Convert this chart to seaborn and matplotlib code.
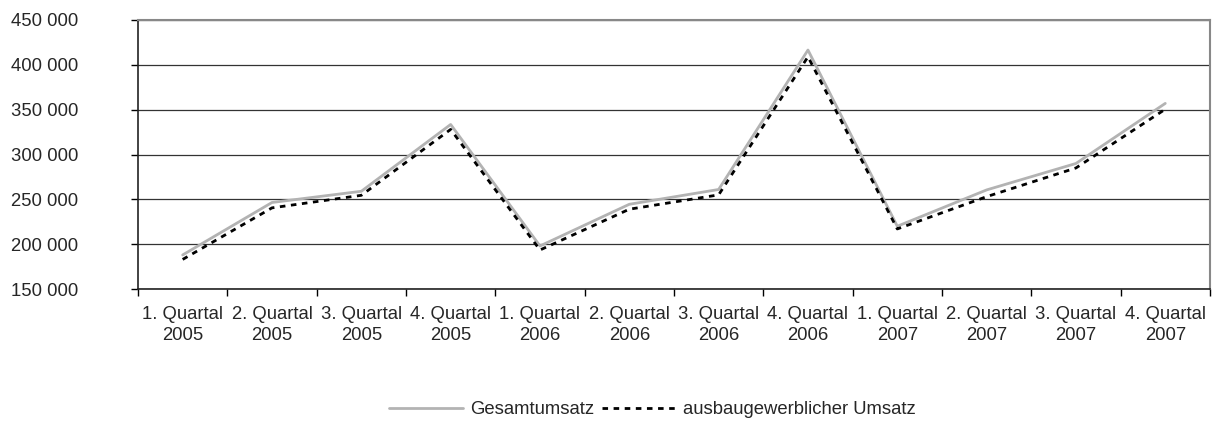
import matplotlib
matplotlib.use('Agg')
import matplotlib.pyplot as plt
import seaborn as sns
import pandas as pd
from matplotlib.ticker import FuncFormatter, FixedLocator

#quarter labels + values
quartale = ['1. Quartal\n2005', '2. Quartal\n2005', '3. Quartal\n2005', '4. Quartal\n2005',
            '1. Quartal\n2006', '2. Quartal\n2006', '3. Quartal\n2006', '4. Quartal\n2006',
            '1. Quartal\n2007', '2. Quartal\n2007', '3. Quartal\n2007', '4. Quartal\n2007']
gesamtumsatz = [188000, 246500, 259000, 333500, 198000, 244500, 261000, 416500,
                220000, 260500, 290000, 357000]
ausbau_umsatz = [183000, 240500, 254500, 328000, 193500, 239000, 255000, 409000,
                 217000, 253000, 285000, 350500]

df = pd.DataFrame({'pos': range(len(quartale)),
                   'Gesamtumsatz': gesamtumsatz,
                   'ausbaugewerblicher Umsatz': ausbau_umsatz})

sns.set_style('white')
plt.rcParams['font.family'] = ['Liberation Sans', 'DejaVu Sans']
fs = 13.3

fig = plt.figure(figsize=(12.17, 4.21), dpi=100)
ax = fig.add_axes([0.1134, 0.3135, 0.8808, 0.639])

sns.lineplot(data=df, x='pos', y='Gesamtumsatz', ax=ax, color='#b3b3b3', linewidth=2,
             label='Gesamtumsatz')
sns.lineplot(data=df, x='pos', y='ausbaugewerblicher Umsatz', ax=ax, color='black',
             linewidth=2, dashes=(2, 2), label='ausbaugewerblicher Umsatz')

ax.set_xlim(-0.5, len(quartale) - 0.5)
ax.set_ylim(150000, 450000)
ax.set_yticks(range(150000, 450001, 50000))
ax.yaxis.set_major_formatter(FuncFormatter(lambda v, p: f'{int(v):,}'.replace(',', ' ')))
ax.yaxis.grid(True, color='#333333', linewidth=0.9)
ax.set_axisbelow(True)

#ticks at category borders, labels at centers
ax.xaxis.set_major_locator(FixedLocator([i - 0.5 for i in range(len(quartale) + 1)]))
ax.xaxis.set_major_formatter(FuncFormatter(lambda v, p: ''))
ax.xaxis.set_minor_locator(FixedLocator(list(range(len(quartale)))))
ax.set_xticklabels(quartale, minor=True, linespacing=1.35)
ax.tick_params(axis='x', which='major', length=5, width=1, color='black', direction='out', bottom=True)
ax.tick_params(axis='x', which='minor', length=0, labelsize=fs, pad=12)
ax.tick_params(axis='y', length=5, width=1, color='black', direction='out', left=True, labelsize=fs, pad=38)

for s in ['top', 'right']:
    ax.spines[s].set_color('#888888')
    ax.spines[s].set_linewidth(1.5)
for s in ['left', 'bottom']:
    ax.spines[s].set_color('#222222')
    ax.spines[s].set_linewidth(1.2)

ax.set_xlabel('')
ax.set_ylabel('')
h, l = ax.get_legend_handles_labels()
ax.get_legend().remove()
fig.legend(h, l, loc='center', bbox_to_anchor=(0.536, 1 - 410 / 421), ncol=2, frameon=False,
           fontsize=fs, handlelength=4, handletextpad=0.4, columnspacing=0.4)

plt.savefig('out.png', dpi=100)
